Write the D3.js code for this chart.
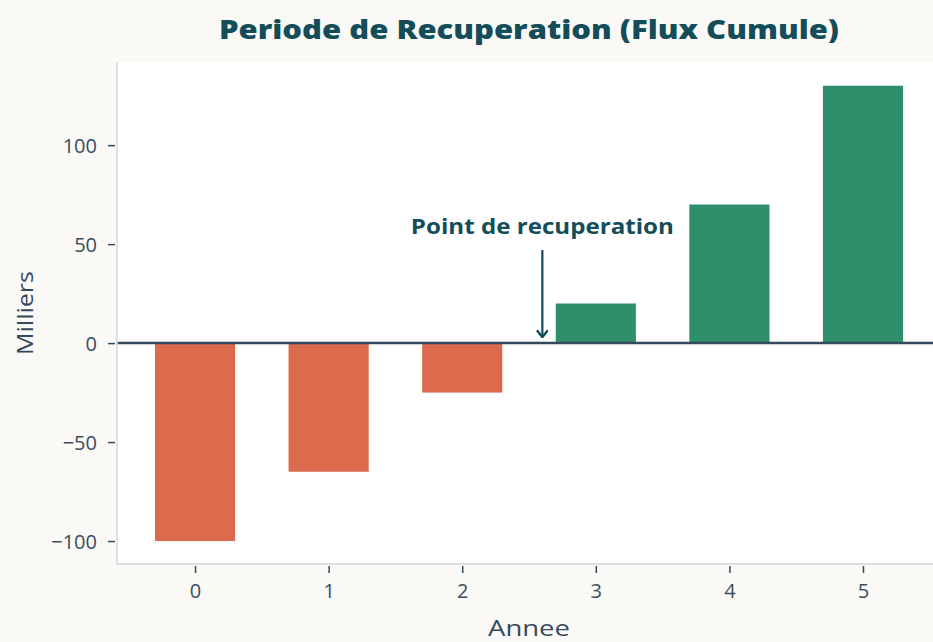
<!DOCTYPE html>
<html>
<head>
<meta charset="utf-8">
<script src="https://cdn.jsdelivr.net/npm/d3@7"></script>
<style>
  body { margin: 0; background: #faf9f5; }
  svg { display: block; }
  .tick text { font-family: "Open Sans", sans-serif; font-size: 20px; fill: #3b4d5e; }
</style>
</head>
<body>
<div id="chart"></div>
<script>
// data
var years = [0, 1, 2, 3, 4, 5];
var cumul = [-100, -65, -25, 20, 70, 130];
var yTicks = [-100, -50, 0, 50, 100];
var paybackX = 2.6;

var svgWidth = 933;
var svgHeight = 642;

var margin = { top: 62, right: 0, bottom: 78, left: 117 };
var chartWidth = svgWidth - margin.left - margin.right;
var chartHeight = svgHeight - margin.top - margin.bottom;

var svg = d3.select("#chart")
  .append("svg")
  .attr("width", svgWidth)
  .attr("height", svgHeight);

svg.append("rect")
  .attr("width", svgWidth)
  .attr("height", svgHeight)
  .attr("fill", "#faf9f5");

var chartGroup = svg.append("g")
  .attr("transform", `translate(${margin.left}, ${margin.top})`);

var xScale = d3.scaleLinear()
  .domain([-0.584, 5.524])
  .range([0, chartWidth]);

var yScale = d3.scaleLinear()
  .domain([-111.6, 142])
  .range([chartHeight, 0]);

// plot background
chartGroup.append("rect")
  .attr("width", chartWidth)
  .attr("height", chartHeight)
  .attr("fill", "#ffffff");

var barW = xScale(0.6) - xScale(0);

chartGroup.selectAll(".bar")
  .data(years)
  .enter()
  .append("rect")
  .attr("class", "bar")
  .attr("x", (d) => xScale(d) - barW / 2)
  .attr("width", barW)
  .attr("y", (d, i) => yScale(Math.max(0, cumul[i])))
  .attr("height", (d, i) => Math.abs(yScale(cumul[i]) - yScale(0)))
  .attr("fill", (d, i) => cumul[i] < 0 ? "#dc6a4d" : "#2f8f6a");

// zero line
chartGroup.append("line")
  .attr("x1", 0)
  .attr("x2", chartWidth)
  .attr("y1", yScale(0))
  .attr("y2", yScale(0))
  .attr("stroke", "#34495e")
  .attr("stroke-width", 2.5);

// spines
chartGroup.append("line")
  .attr("x1", 0).attr("x2", 0)
  .attr("y1", 0).attr("y2", chartHeight)
  .attr("stroke", "#cfd6da").attr("stroke-width", 1.5);
chartGroup.append("line")
  .attr("x1", 0).attr("x2", chartWidth)
  .attr("y1", chartHeight).attr("y2", chartHeight)
  .attr("stroke", "#cfd6da").attr("stroke-width", 1.5);

// axes
var leftAxis = d3.axisLeft(yScale).tickValues(yTicks).tickSize(7).tickPadding(11).tickFormat(d3.format("d"));
var bottomAxis = d3.axisBottom(xScale).tickValues(years).tickSize(7).tickPadding(9).tickFormat(d3.format("d"));

var gy = chartGroup.append("g")
  .attr("transform", "translate(-2,0)")
  .call(leftAxis);
gy.select(".domain").remove();
gy.selectAll(".tick line").attr("stroke", "#34495e").attr("stroke-width", 1.5);
gy.selectAll(".tick text").attr("dy", "0.35em").text((d) => d < 0 ? "\u2212" + Math.abs(d) : d);

var gx = chartGroup.append("g")
  .attr("transform", `translate(0, ${chartHeight + 2})`)
  .call(bottomAxis);
gx.select(".domain").remove();
gx.selectAll(".tick line").attr("stroke", "#34495e").attr("stroke-width", 1.5);
gx.selectAll(".tick text").attr("dy", "0.8em");

// labels
svg.append("text")
  .attr("x", 529)
  .attr("y", 39)
  .attr("text-anchor", "middle")
  .style("font-family", "'Open Sans', sans-serif")
  .style("font-size", "27px")
  .style("font-weight", "800")
  .style("fill", "#144d5a")
  .attr("textLength", 620)
  .attr("lengthAdjust", "spacingAndGlyphs")
  .text("Periode de Recuperation (Flux Cumule)");

svg.append("text")
  .attr("x", 529)
  .attr("y", 636)
  .attr("text-anchor", "middle")
  .style("font-family", "'Open Sans', sans-serif")
  .style("font-size", "21px")
  .style("fill", "#34495e")
  .attr("textLength", 82)
  .attr("lengthAdjust", "spacingAndGlyphs")
  .text("Annee");

svg.append("text")
  .attr("transform", `translate(33, ${margin.top + chartHeight / 2}) rotate(-90)`)
  .attr("text-anchor", "middle")
  .style("font-family", "'Open Sans', sans-serif")
  .style("font-size", "21px")
  .style("fill", "#34495e")
  .attr("textLength", 84)
  .attr("lengthAdjust", "spacingAndGlyphs")
  .text("Milliers");

// annotation
svg.append("defs").append("marker")
  .attr("id", "arrow")
  .attr("viewBox", "0 0 10 10")
  .attr("refX", 9).attr("refY", 5)
  .attr("markerWidth", 5.5).attr("markerHeight", 5.5)
  .attr("orient", "auto")
  .append("path")
  .attr("d", "M4,1 L9,5 L4,9")
  .attr("fill", "none")
  .attr("stroke", "#144d5a")
  .attr("stroke-width", 2)
  .attr("stroke-linecap", "round");

chartGroup.append("line")
  .attr("x1", xScale(paybackX)).attr("x2", xScale(paybackX))
  .attr("y1", yScale(47)).attr("y2", yScale(3))
  .attr("stroke", "#144d5a")
  .attr("stroke-width", 2.2)
  .attr("marker-end", "url(#arrow)");

chartGroup.append("text")
  .attr("x", xScale(paybackX))
  .attr("y", yScale(55))
  .attr("text-anchor", "middle")
  .style("font-family", "'Open Sans', sans-serif")
  .style("font-size", "21px")
  .style("font-weight", "700")
  .style("fill", "#144d5a")
  .attr("textLength", 263)
  .attr("lengthAdjust", "spacingAndGlyphs")
  .text("Point de recuperation");
</script>
</body>
</html>
